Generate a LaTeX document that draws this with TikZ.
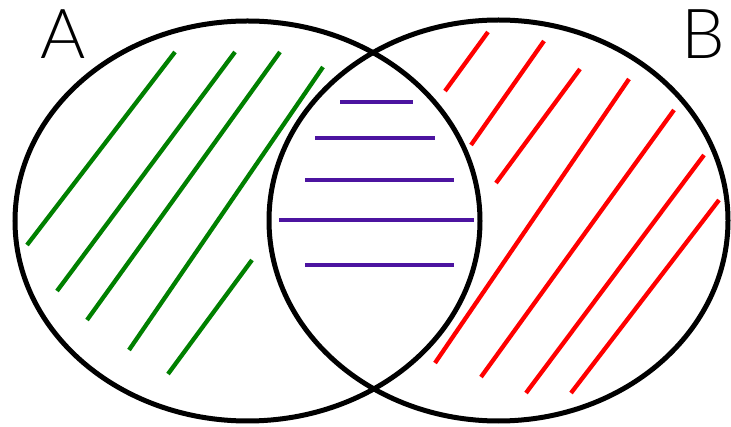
\documentclass[tikz,border=0pt]{standalone}
\usepackage{fontspec}
\newfontfamily\lblfont{Lato Light}
\definecolor{hgreen}{RGB}{0,128,0}
\definecolor{hred}{RGB}{255,0,0}
\definecolor{hpurple}{RGB}{76,20,160}
\tikzset{
  ring/.style={draw=black, line width=5pt},
  gline/.style={draw=hgreen, line width=4.3pt},
  rline/.style={draw=hred, line width=4.3pt},
  pline/.style={draw=hpurple, line width=4.3pt},
  setlabel/.style={font=\lblfont\fontsize{69}{69}\selectfont, inner sep=0pt, anchor=base},
}
\begin{document}
\begin{tikzpicture}[x=1pt,y=-1pt]
\useasboundingbox (0,0) rectangle (731,427);
% green hatching (A only)
\draw[gline] (27,245) -- (175,52);
\draw[gline] (57,291) -- (235,52);
\draw[gline] (87,320) -- (280,52);
\draw[gline] (129,350) -- (323,67);
\draw[gline] (168,374) -- (252,260);
% red hatching (B only)
\draw[rline] (445,91) -- (488,32);
\draw[rline] (471,145) -- (544,41);
\draw[rline] (496,183) -- (580,69);
\draw[rline] (435,363) -- (629,79);
\draw[rline] (481,377) -- (674,110);
\draw[rline] (526,393) -- (704,155);
\draw[rline] (571,393) -- (719,200);
% purple hatching (intersection)
\draw[pline] (340,102) -- (413,102);
\draw[pline] (315,138) -- (435,138);
\draw[pline] (305,180) -- (454,180);
\draw[pline] (279,220) -- (474,220);
\draw[pline] (305,265) -- (454,265);
% sets
\draw[ring] (247.5,221) ellipse [x radius=232.5, y radius=200];
\draw[ring] (498.5,220.5) ellipse [x radius=229.5, y radius=200.5];
% labels
\node[setlabel] (labA) at (63,59) {A};
\node[setlabel] (labB) at (703,59) {B};
\end{tikzpicture}
\end{document}
